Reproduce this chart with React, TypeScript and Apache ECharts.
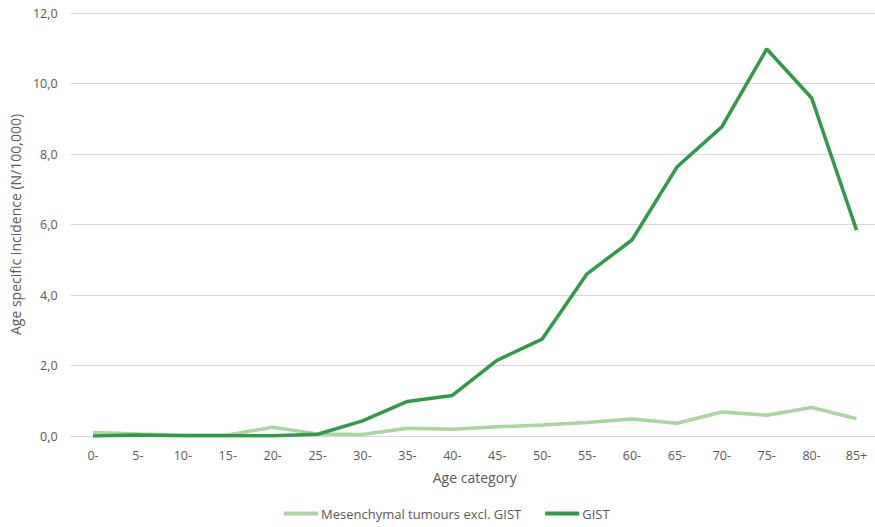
import React, { useEffect, useRef } from "react";
import * as echarts from "echarts";

const categories = ["0-", "5-", "10-", "15-", "20-", "25-", "30-", "35-", "40-", "45-", "50-", "55-", "60-", "65-", "70-", "75-", "80-", "85+"];
const mesenchymal = [0.1, 0.06, 0.03, 0.03, 0.25, 0.06, 0.04, 0.22, 0.19, 0.26, 0.31, 0.38, 0.48, 0.36, 0.68, 0.59, 0.81, 0.49];
const gist = [0.0, 0.03, 0.01, 0.01, 0.01, 0.05, 0.43, 0.98, 1.15, 2.15, 2.75, 4.6, 5.56, 7.63, 8.77, 10.98, 9.59, 5.84];
const seriesNames = ["Mesenchymal tumours excl. GIST", "GIST"];

const FONT = "'Open Sans', 'Noto Sans', sans-serif";
const TEXT = "#595959";

export default function App() {
  const ref = useRef<HTMLDivElement>(null);
  useEffect(() => {
    const chart = echarts.init(ref.current!, null, { renderer: "svg" });
    chart.setOption({
      animation: false,
      backgroundColor: "#ffffff",
      textStyle: { fontFamily: FONT },
      grid: { left: 69.5, top: 13, right: 0, bottom: 91, containLabel: false },
      legend: {
        bottom: 2,
        left: 279,
        itemGap: 24,
        icon: "rect",
        itemWidth: 34,
        itemHeight: 4,
        textStyle: { color: TEXT, fontSize: 13, fontFamily: FONT, padding: [0, 0, 0, -2] },
        data: seriesNames,
      },
      xAxis: {
        type: "category",
        data: categories,
        boundaryGap: true,
        name: "Age category",
        nameLocation: "middle",
        nameGap: 34,
        nameTextStyle: { color: TEXT, fontSize: 14, fontFamily: FONT },
        axisLine: { show: true, lineStyle: { color: "#d9d9d9", width: 1 } },
        axisTick: { show: false },
        axisLabel: { color: TEXT, fontSize: 12.5, margin: 13, fontFamily: FONT },
      },
      yAxis: {
        type: "value",
        min: 0,
        max: 12,
        interval: 2,
        name: "Age specific incidence (N/100,000)",
        nameLocation: "middle",
        nameGap: 42,
        nameTextStyle: { color: TEXT, fontSize: 14, fontFamily: FONT },
        axisLine: { show: false },
        axisTick: { show: false },
        splitLine: { lineStyle: { color: "#d9d9d9", width: 1 } },
        axisLabel: {
          color: TEXT,
          fontSize: 12.5,
          margin: 13,
          fontFamily: FONT,
          formatter: (v: number) => v.toFixed(1).replace(".", ","),
        },
      },
      series: [
        {
          name: seriesNames[0],
          type: "line",
          data: mesenchymal,
          symbol: "none",
          lineStyle: { color: "#a9d5a0", width: 3.5 },
          itemStyle: { color: "#a9d5a0" },
        },
        {
          name: seriesNames[1],
          type: "line",
          data: gist,
          symbol: "none",
          lineStyle: { color: "#2f9a47", width: 3.5 },
          itemStyle: { color: "#2f9a47" },
        },
      ],
    });
    return () => chart.dispose();
  }, []);
  return (
    <div
      style={{ position: "fixed", left: 0, top: 0, width: 875, height: 527, overflow: "hidden", background: "#fff" }}
    >
      <div ref={ref} style={{ width: 878.5, height: 527 }} />
    </div>
  );
}
